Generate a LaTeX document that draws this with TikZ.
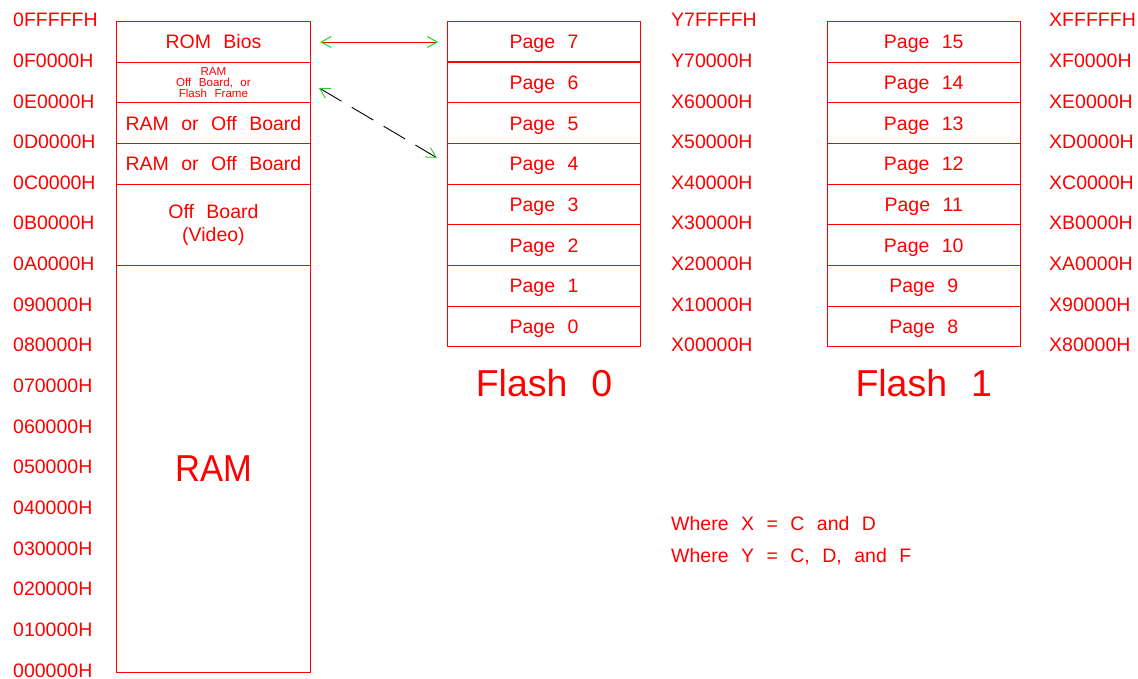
\documentclass[tikz,border=0pt]{standalone}
\usepackage{fontspec}
\setmainfont[WordSpace=2.3]{Liberation Sans}
\usetikzlibrary{arrows.meta,positioning}
\definecolor{cadred}{RGB}{255,0,0}
\definecolor{cadgreen}{RGB}{30,215,30}
\tikzset{
	cell/.style={draw=cadred,line width=1pt,outer sep=0pt,inner sep=0pt,minimum width=193.5pt,minimum height=40.65pt,text=cadred,align=center,font=\fontsize{19.5}{23}\selectfont},
	page/.style={cell,text depth=0pt},
	addr/.style={text=cadred,inner sep=0pt,anchor=west,font=\fontsize{19.5}{23}\selectfont},
	title/.style={text=cadred,inner sep=0pt,font=\fontsize{37.5}{40}\selectfont},
	barbs/.style={{Straight Barb[color=cadgreen,length=10pt,width=11pt]}-{Straight Barb[color=cadgreen,length=10pt,width=11pt]}}
}
\begin{document}
\begin{tikzpicture}[x=1pt,y=-1pt]
	\useasboundingbox (0,0) rectangle (1138,679);
	%memory map
	\node[cell,anchor=north west] (rom) at (116.7,21.7) {ROM Bios};
	\node[cell,below=0pt of rom,font=\fontsize{11.6}{10.8}\selectfont] (frame) {RAM\\Off Board, or\\Flash Frame};
	\node[cell,below=0pt of frame] (ramd) {RAM or Off Board};
	\node[cell,below=0pt of ramd] (ramc) {RAM or Off Board};
	\node[cell,below=0pt of ramc,minimum height=81.3pt] (video) {Off Board\\(Video)};
	\node[cell,below=0pt of video,minimum height=406.5pt,font=\fontsize{37.5}{40}\selectfont] (ram) {\scalebox{0.92}[1]{RAM}};
	\foreach \t [count=\i from 0] in {0FFFFFH,0F0000H,0E0000H,0D0000H,0C0000H,0B0000H,0A0000H,090000H,080000H,070000H,060000H,050000H,040000H,030000H,020000H,010000H,000000H}
		\node[addr] (m\i) at (13,20+40.65*\i) {\t};

	%flash 0
	\node[page,anchor=north west] (p7) at (447.3,21.7) {Page 7};
	\foreach \i [evaluate=\i as \j using int(\i+1)] in {6,5,...,0}
		\node[page,below=0pt of p\j] (p\i) {Page \i};
	\draw[cadred,line width=1.8pt] (p7.south west) -- (p7.south east);
	\foreach \t [count=\i from 0] in {Y7FFFFH,Y70000H,X60000H,X50000H,X40000H,X30000H,X20000H,X10000H,X00000H}
		\node[addr] (a\i) at (671,20+40.65*\i) {\t};
	\node[title,below=22pt of p0] (flash0) {Flash 0};

	%flash 1
	\node[page,anchor=north west] (p15) at (827,21.7) {Page 15};
	\foreach \i [evaluate=\i as \j using int(\i+1)] in {14,13,...,8}
		\node[page,below=0pt of p\j] (p\i) {Page \i};
	\foreach \t [count=\i from 0] in {XFFFFFH,XF0000H,XE0000H,XD0000H,XC0000H,XB0000H,XA0000H,X90000H,X80000H}
		\node[addr] (b\i) at (1049,20+40.65*\i) {\t};
	\node[title,below=22pt of p8] (flash1) {Flash 1};

	\draw[cadred,line width=1pt,barbs,shorten <=10pt,shorten >=9pt] (rom.east) -- (p7.west);
	\draw[black,line width=0.9pt,barbs,dash pattern=on 25pt off 12pt,shorten <=10pt,shorten >=12pt] (frame.east) -- (p4.west);

	\node[addr,anchor=base west] (wherex) at (671,530) {Where X = C and D};
	\node[addr,anchor=base west] (wherey) at (671,562) {Where Y = C, D, and F};
\end{tikzpicture}
\end{document}
